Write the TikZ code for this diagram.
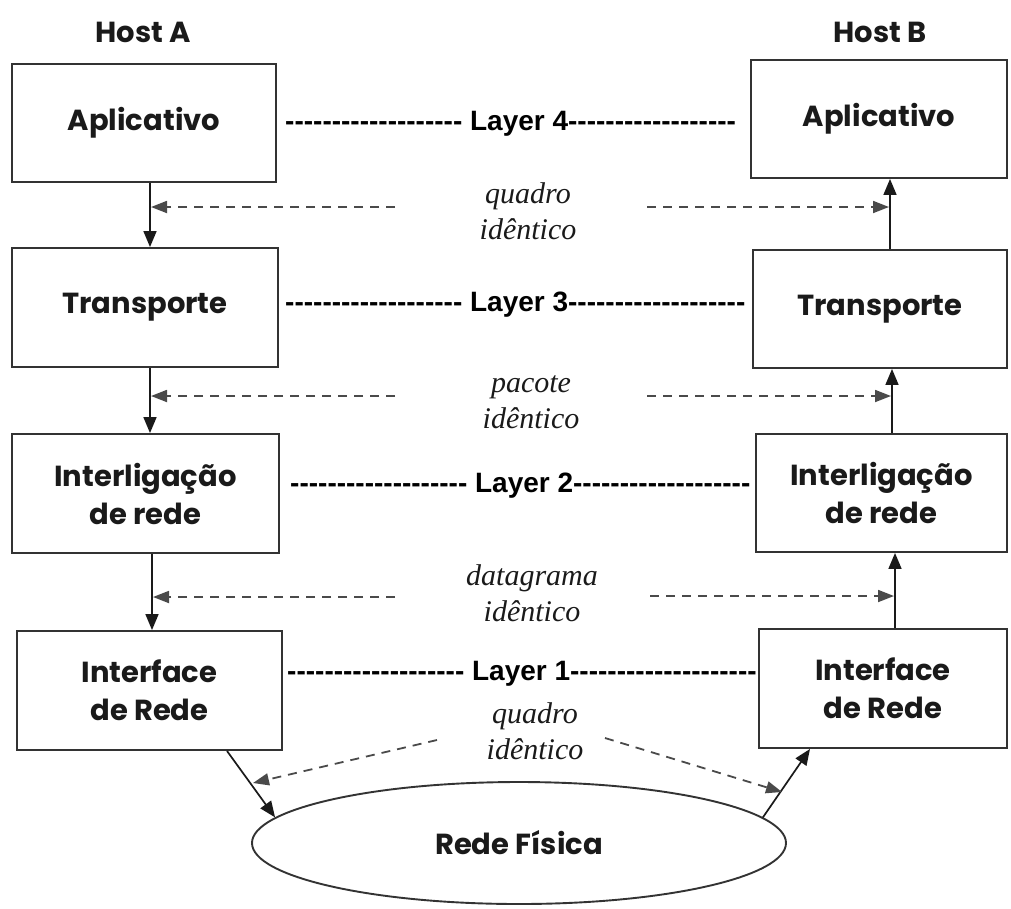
\documentclass[tikz,border=0pt]{standalone}
\usepackage{fontspec}
\newfontfamily\geofont{Poppins}
\newfontfamily\labelfont{Liberation Sans}
\newfontfamily\notefont{Liberation Serif}
\usetikzlibrary{arrows.meta,shapes.geometric}
\definecolor{ink}{HTML}{1A1A1A}
\definecolor{edge}{HTML}{333333}
\definecolor{dashgray}{HTML}{4A4A4A}

\begin{document}
\begin{tikzpicture}[x=1pt,y=-1pt,
  box/.style={draw=edge, line width=1.9pt, inner sep=0pt, align=center, text=ink,
    font=\geofont\bfseries\fontsize{29}{38}\selectfont},
  host/.style={text=ink, inner sep=0pt, font=\geofont\bfseries\fontsize{29}{32}\selectfont},
  layer/.style={anchor=base west, inner sep=0pt, text=black,
    font=\labelfont\bfseries\fontsize{28}{30}\selectfont},
  note/.style={text=ink, inner sep=0pt, align=center,
    font=\notefont\itshape\fontsize{30}{36}\selectfont},
  flow/.style={draw=ink, line width=1.7pt, -{Triangle[length=16pt,width=13pt]}},
  copyarrow/.style={draw=dashgray, line width=1.8pt, dash pattern=on 9pt off 7pt,
    -{Triangle[length=16pt,width=12pt]}}
]
\useasboundingbox (0,0) rectangle (1011,908);

% host titles
\node[host] (hostA) at (143,32) {Host A};
\node[host] (hostB) at (880,32) {Host B};

% protocol stack of host A
\node[box, minimum width=264pt, minimum height=118pt] (appA) at (144,123)   {Aplicativo};
\node[box, minimum width=266pt, minimum height=119pt] (trA)  at (145,307.5) {Transporte};
\node[box, minimum width=267pt, minimum height=119pt] (inA)  at (145.5,493.5) {Interligação\\de rede};
\node[box, minimum width=265pt, minimum height=119pt] (ifA)  at (149.5,690.5) {Interface\\de Rede};

% protocol stack of host B
\node[box, minimum width=256pt, minimum height=118pt] (appB) at (879,119)   {Aplicativo};
\node[box, minimum width=254pt, minimum height=118pt] (trB)  at (880,309)   {Transporte};
\node[box, minimum width=251pt, minimum height=118pt] (inB)  at (881.5,493) {Interligação\\de rede};
\node[box, minimum width=248pt, minimum height=119pt] (ifB)  at (883,688.5) {Interface\\de Rede};

% physical network
\node[box, ellipse, minimum width=534pt, minimum height=122pt] (net) at (519,843) {Rede Física};

% peer layers
\node[layer] (L4) at (285,130) {------------------- Layer 4------------------};
\node[layer] (L3) at (285,311) {------------------- Layer 3-------------------};
\node[layer] (L2) at (290,492) {------------------- Layer 2-------------------};
\node[layer] (L1) at (287,680) {------------------- Layer 1--------------------};

% labels of the identical units
\node[note] (n4) at (528,211) {quadro\\idêntico};
\node[note] (n3) at (531,402) {pacote\\idêntico};
\node[note] (n2) at (532,593) {datagrama\\idêntico};
\node[note] (n1) at (535,731) {quadro\\idêntico};

% data going down through host A
\draw[flow] (appA.south -| 150,0) -- (trA.north -| 150,0);
\draw[flow] (trA.south -| 150,0)  -- (inA.north -| 150,0);
\draw[flow] (inA.south -| 152,0)  -- (ifA.north -| 152,0);
\draw[flow] (ifA.south -| 227,0)  -- (net.174);

% data going up through host B
\draw[flow] (trB.north -| 890,0) -- (appB.south -| 890,0);
\draw[flow] (inB.north -| 892,0) -- (trB.south -| 892,0);
\draw[flow] (ifB.north -| 895,0) -- (inB.south -| 895,0);
\draw[flow] (net.6) -- (ifB.south -| 810,0);

% dashed pointers to the identical units
\coordinate (a4) at (395,207); \coordinate (b4) at (647,207);
\coordinate (a3) at (395,396); \coordinate (b3) at (647,396);
\coordinate (a2) at (395,597); \coordinate (b2) at (650,596);
\coordinate (a1) at (437,740); \coordinate (b1) at (605,738);
\draw[copyarrow] (a4) -- (151,207);
\draw[copyarrow] (b4) -- (889,207);
\draw[copyarrow] (a3) -- (151,396);
\draw[copyarrow] (b3) -- (891,396);
\draw[copyarrow] (a2) -- (153,597);
\draw[copyarrow] (b2) -- (894,596);
\draw[copyarrow] (a1) -- (253,783);
\draw[copyarrow] (b1) -- (782,792);
\end{tikzpicture}
\end{document}
